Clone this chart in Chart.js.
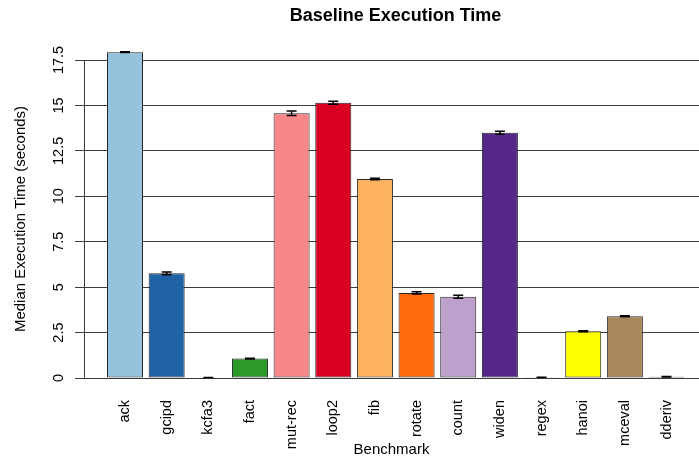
<!DOCTYPE html>
<html>
<head>
<meta charset="utf-8">
<script src="https://cdn.jsdelivr.net/npm/chart.js@4"></script>
<style>
  body { margin: 0; background: #fff; }
  #wrap { width: 699px; height: 460px; position: relative; }
</style>
</head>
<body>
<div id="wrap"><canvas id="timeChart"></canvas></div>
<script>
// benchmark names, median times (s) and error half-widths
const benchmarks = ["ack", "gcipd", "kcfa3", "fact", "mut-rec", "loop2", "fib", "rotate", "count", "widen", "regex", "hanoi", "mceval", "dderiv"];
const medianTimes = [17.93, 5.76, 0.03, 1.07, 14.57, 15.15, 10.95, 4.68, 4.47, 13.5, 0.04, 2.57, 3.4, 0.07];
const timeErrors = [0.02, 0.08, 0.002, 0.02, 0.12, 0.08, 0.04, 0.06, 0.08, 0.08, 0.002, 0.03, 0.03, 0.01];
const barColors = ["#95c3de", "#1f63a6", "#a8d883", "#2c9a27", "#f8878a", "#da0120", "#fcb25e", "#ff6a0c", "#bea0cc", "#55288a", "#f2f2a0", "#ffff00", "#a8875a", "#333333"];
const yTicks = [0, 2.5, 5, 7.5, 10, 12.5, 15, 17.5];

const chartTitle = "Baseline Execution Time";
const fontFamily = "'Liberation Sans', Arial, Helvetica, sans-serif";

Chart.defaults.color = "#000";
Chart.defaults.font.family = fontFamily;

// whiskers on top of each bar
const errorBars = {
    id: "errorBars",
    afterDatasetsDraw(chart) {
        const ctx = chart.ctx;
        const x = chart.scales.x, y = chart.scales.y;
        ctx.save();
        ctx.strokeStyle = "#000";
        ctx.lineWidth = 1.5;
        medianTimes.forEach((v, i) => {
            const px = x.getPixelForValue(i);
            const top = y.getPixelForValue(v + timeErrors[i]);
            const bot = y.getPixelForValue(v - timeErrors[i]);
            ctx.beginPath();
            ctx.moveTo(px, top); ctx.lineTo(px, bot);
            ctx.moveTo(px - 5, top); ctx.lineTo(px + 5, top);
            ctx.moveTo(px - 5, bot); ctx.lineTo(px + 5, bot);
            ctx.stroke();
        });
        ctx.restore();
    }
};

// main title, centred over the plot region
const plotTitle = {
    id: "plotTitle",
    afterDraw(chart) {
        const ctx = chart.ctx;
        const area = chart.chartArea;
        ctx.save();
        ctx.font = "bold 18px " + fontFamily;
        ctx.fillStyle = "#000";
        ctx.textAlign = "center";
        ctx.textBaseline = "middle";
        ctx.fillText(chartTitle, (area.left + area.right) / 2 + 4, 16);
        ctx.restore();
    }
};

new Chart(document.getElementById("timeChart"), {
    type: "bar",
    data: {
        datasets: [{
            label: "Median Execution Time",
            data: benchmarks.map((b, i) => ({ x: i, y: medianTimes[i] })),
            backgroundColor: barColors,
            borderColor: "#262626",
            borderWidth: 1,
            borderSkipped: false,
            barPercentage: 0.865,
            categoryPercentage: 1,
            clip: false
        }]
    },
    options: {
        responsive: true,
        maintainAspectRatio: false,
        animation: false,
        layout: { padding: { top: 60, left: 0, right: 0, bottom: 0 } },
        plugins: {
            legend: { display: false },
            tooltip: { enabled: false }
        },
        scales: {
            x: {
                type: "linear",
                offset: false,
                min: -0.984,
                max: 13.78,
                afterBuildTicks: (scale) => { scale.ticks = benchmarks.map((b, i) => ({ value: i })); },
                afterFit: (scale) => {
                    scale.height = 82;
                    scale.paddingLeft = 0;
                    scale.paddingRight = 0;
                },
                grid: { display: false, drawTicks: false },
                border: { display: false },
                ticks: {
                    autoSkip: false,
                    minRotation: 90,
                    maxRotation: 90,
                    padding: 22,
                    font: { size: 14.5 },
                    callback: (value) => benchmarks[value]
                },
                title: {
                    display: true,
                    text: "Benchmark",
                    font: { size: 15 },
                    padding: { top: 0, bottom: 1 }
                }
            },
            y: {
                min: 0,
                max: 17.5,
                afterBuildTicks: (scale) => { scale.ticks = yTicks.map(v => ({ value: v })); },
                afterFit: (scale) => { scale.width = 84; },
                grid: { color: "#3c3c3c", lineWidth: 1, tickLength: 9 },
                border: { color: "#3c3c3c", width: 1 },
                ticks: {
                    minRotation: 90,
                    maxRotation: 90,
                    crossAlign: "center",
                    padding: 2,
                    font: { size: 14.5 }
                },
                title: {
                    display: true,
                    text: "Median Execution Time (seconds)",
                    font: { size: 15 },
                    padding: { top: 12, bottom: 0 }
                }
            }
        }
    },
    plugins: [errorBars, plotTitle]
});
</script>
</body>
</html>
